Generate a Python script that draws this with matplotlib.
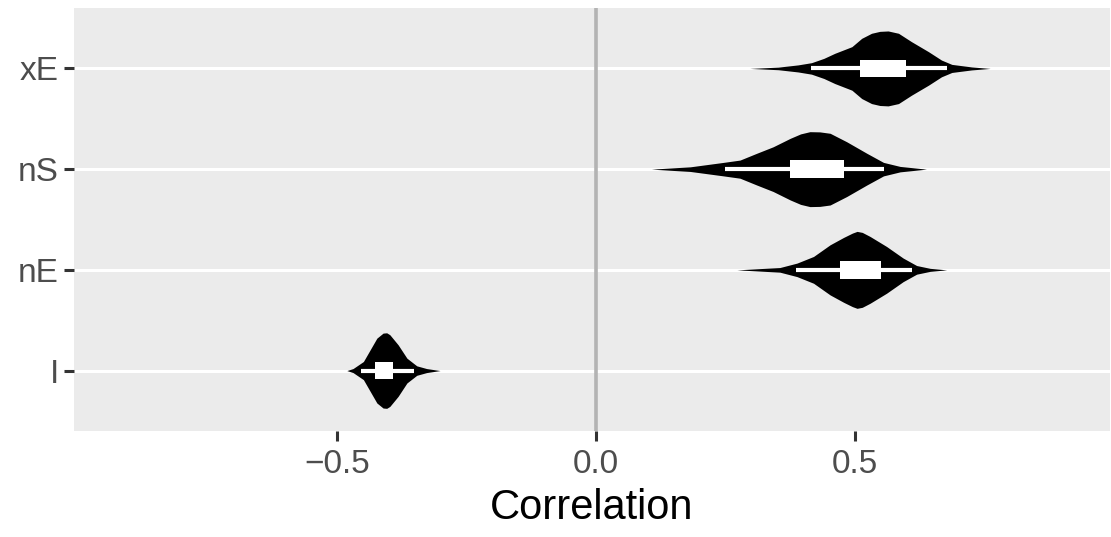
import numpy as np
import matplotlib
matplotlib.use('Agg')
import matplotlib.pyplot as plt
from matplotlib.patches import Rectangle

plt.rcParams['font.family'] = ['Liberation Sans', 'DejaVu Sans']

# Kategorien (von unten nach oben)
categories = ['I', 'nE', 'nS', 'xE']

# Violin-Profile: x-Positionen und halbe Breite (in Kategorie-Einheiten), aus dem Bild gelesen
prof_x = {
    'xE': [0.297, 0.352, 0.390, 0.416, 0.440, 0.461, 0.494, 0.513, 0.532, 0.548, 0.564, 0.584, 0.609, 0.642, 0.667, 0.687, 0.725, 0.761],
    'nS': [0.107, 0.182, 0.246, 0.278, 0.310, 0.342, 0.375, 0.395, 0.413, 0.432, 0.452, 0.484, 0.523, 0.555, 0.587, 0.638],
    'nE': [0.272, 0.355, 0.388, 0.420, 0.452, 0.478, 0.495, 0.504, 0.514, 0.529, 0.561, 0.593, 0.619, 0.645, 0.677],
    'I':  [-0.481, -0.469, -0.449, -0.436, -0.423, -0.411, -0.404, -0.398, -0.382, -0.365, -0.346, -0.327, -0.301],
}
prof_w = {
    'xE': [0.0, 0.013, 0.035, 0.057, 0.100, 0.150, 0.216, 0.299, 0.349, 0.368, 0.372, 0.349, 0.266, 0.166, 0.083, 0.040, 0.015, 0.0],
    'nS': [0.0, 0.023, 0.067, 0.090, 0.157, 0.222, 0.306, 0.350, 0.372, 0.370, 0.356, 0.272, 0.157, 0.067, 0.027, 0.0],
    'nE': [0.0, 0.023, 0.067, 0.133, 0.249, 0.322, 0.365, 0.382, 0.372, 0.332, 0.232, 0.117, 0.043, 0.015, 0.0],
    'I':  [0.0, 0.020, 0.090, 0.206, 0.322, 0.372, 0.375, 0.356, 0.256, 0.123, 0.047, 0.020, 0.0],
}

# Quartile (Box) und Whisker
q1 = {'xE': 0.510, 'nS': 0.375, 'nE': 0.471, 'I': -0.427}
q3 = {'xE': 0.598, 'nS': 0.479, 'nE': 0.550, 'I': -0.391}
lo = {'xE': 0.416, 'nS': 0.249, 'nE': 0.386, 'I': -0.454}
hi = {'xE': 0.678, 'nS': 0.556, 'nE': 0.611, 'I': -0.351}

fig = plt.figure(figsize=(11.11, 5.37), dpi=100)
ax = fig.add_axes([74 / 1111, 1 - 431 / 537, 1036 / 1111, 423 / 537])
ax.set_facecolor('#EBEBEB')

for i, cat in enumerate(categories):
    y = i + 1
    ax.axhline(y, color='white', lw=2.2, zorder=1)

ax.axvline(0, color='#B3B3B3', lw=2.6, zorder=2)

for i, cat in enumerate(categories):
    y = i + 1
    xs = np.array(prof_x[cat])
    ws = np.array(prof_w[cat])
    ax.fill_between(xs, y - ws, y + ws, color='black', lw=0, zorder=3)
    ax.plot([lo[cat], hi[cat]], [y, y], color='white', lw=3, solid_capstyle='butt', zorder=4)
    ax.add_patch(Rectangle((q1[cat], y - 0.087), q3[cat] - q1[cat], 0.174,
                           facecolor='white', edgecolor='none', zorder=5))

ax.set_xlim(-1.0077, 0.9923)
ax.set_ylim(0.4, 4.6)
ax.set_yticks(range(1, len(categories) + 1))
ax.set_yticklabels(categories)
ax.set_xticks([-0.5, 0.0, 0.5])
ax.set_xticklabels(['\u22120.5', '0.0', '0.5'])
ax.tick_params(axis='both', labelsize=24, labelcolor='#4D4D4D', color='#333333',
               length=7, width=2.2, pad=4)
ax.tick_params(axis='x', pad=6)
ax.set_xlabel('Correlation', fontsize=30, color='black', labelpad=6)
for s in ax.spines.values():
    s.set_visible(False)

fig.savefig('out.png', dpi=100, facecolor='white')
